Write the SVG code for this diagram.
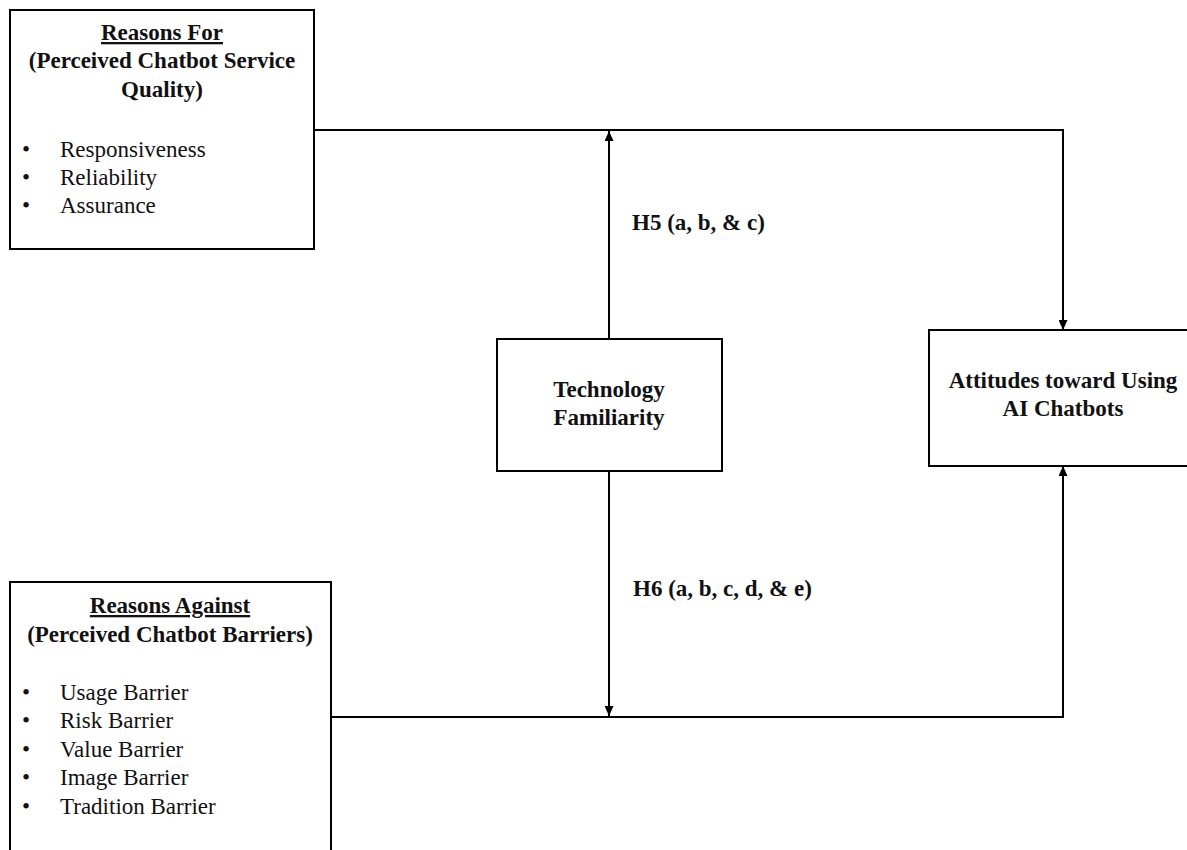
<svg xmlns="http://www.w3.org/2000/svg" width="1187" height="850" viewBox="0 0 1187 850">
  <style>
    .box { fill: #ffffff; stroke: #000000; stroke-width: 2; }
    .wire { fill: none; stroke: #000000; stroke-width: 2; }
    text { font-family: "Liberation Serif", "Times New Roman", serif; font-size: 23px; fill: #111111; }
    .b { font-weight: bold; }
    .c { text-anchor: middle; }
    .u { text-decoration: underline; }
  </style>
  <defs>
    <marker id="arrow" markerUnits="userSpaceOnUse" markerWidth="10" markerHeight="9" refX="10" refY="4.5" orient="auto">
      <path d="M0,0 L10,4.5 L0,9 z" fill="#000000"/>
    </marker>
  </defs>

  <!-- connectors -->
  <g id="connectors">
    <polyline class="wire" points="314,130 1063,130 1063,330" marker-end="url(#arrow)"/>
    <polyline class="wire" points="331,717 1063,717 1063,466" marker-end="url(#arrow)"/>
    <line class="wire" x1="609" y1="339" x2="609" y2="131" marker-end="url(#arrow)"/>
    <line class="wire" x1="609" y1="471" x2="609" y2="716" marker-end="url(#arrow)"/>
    <text class="b" x="632" y="230">H5 (a, b, &amp; c)</text>
    <text class="b" x="633" y="596">H6 (a, b, c, d, &amp; e)</text>
  </g>

  <!-- reasons for -->
  <g id="reasons-for">
    <rect class="box" x="10" y="10" width="304" height="239"/>
    <text class="b c u" x="162" y="40">Reasons For</text>
    <text class="b c" x="162" y="68">(Perceived Chatbot Service</text>
    <text class="b c" x="162" y="97">Quality)</text>
    <text x="22" y="157">•</text><text x="60" y="157">Responsiveness</text>
    <text x="22" y="185">•</text><text x="60" y="185">Reliability</text>
    <text x="22" y="213">•</text><text x="60" y="213">Assurance</text>
  </g>

  <!-- reasons against -->
  <g id="reasons-against">
    <rect class="box" x="10" y="582" width="321" height="290"/>
    <text class="b c u" x="170" y="613">Reasons Against</text>
    <text class="b c" x="170" y="642">(Perceived Chatbot Barriers)</text>
    <text x="22" y="700">•</text><text x="60" y="700">Usage Barrier</text>
    <text x="22" y="728">•</text><text x="60" y="728">Risk Barrier</text>
    <text x="22" y="757">•</text><text x="60" y="757">Value Barrier</text>
    <text x="22" y="785">•</text><text x="60" y="785">Image Barrier</text>
    <text x="22" y="814">•</text><text x="60" y="814">Tradition Barrier</text>
  </g>

  <!-- moderator -->
  <g id="technology-familiarity">
    <rect class="box" x="497" y="339" width="225" height="132"/>
    <text class="b c" x="609" y="397">Technology</text>
    <text class="b c" x="609" y="425">Familiarity</text>
  </g>

  <!-- outcome -->
  <g id="attitudes">
    <rect class="box" x="929" y="330" width="270" height="136"/>
    <text class="b c" x="1063" y="388">Attitudes toward Using</text>
    <text class="b c" x="1063" y="416">AI Chatbots</text>
  </g>
</svg>
